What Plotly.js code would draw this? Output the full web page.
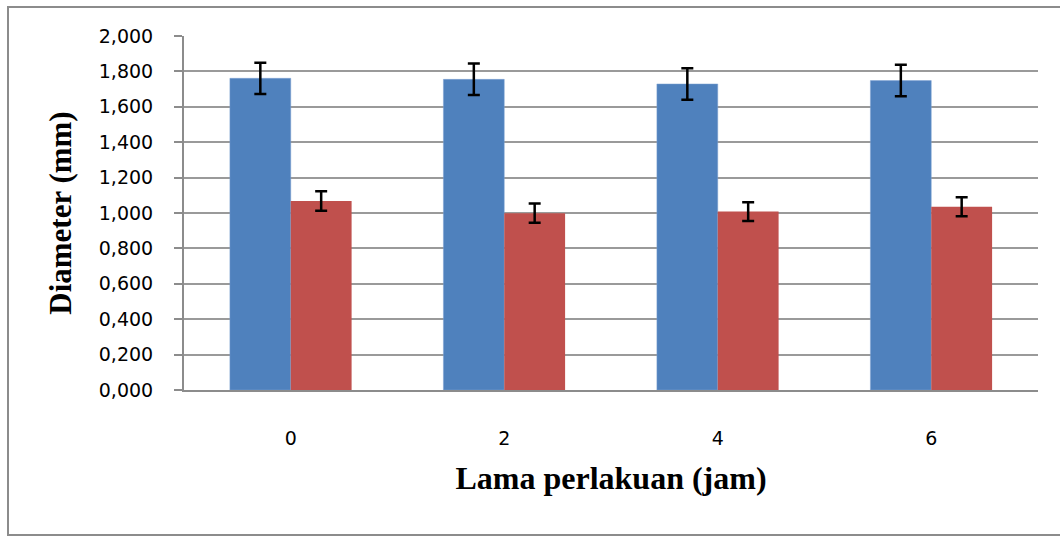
<!DOCTYPE html>
<html>
<head>
<meta charset="utf-8">
<script src="https://cdn.plot.ly/plotly-3.0.1.min.js"></script>
<style>
  html, body { margin: 0; padding: 0; background: #ffffff; }
  #wrap { position: relative; width: 1060px; height: 539px; overflow: hidden; }
  #chart { width: 1060px; height: 539px; }
  #frame { position: absolute; left: 7px; top: 6px; width: 1070px; height: 530px;
           border: 2px solid #8c8c8c; pointer-events: none; box-sizing: border-box; }
</style>
</head>
<body>
<div id="wrap">
  <div id="chart"></div>
  <div id="frame"></div>
</div>
<script>
const categories = ['0', '2', '4', '6'];
const seriesA = [1.761, 1.755, 1.729, 1.748];
const seriesAErr = [0.088, 0.089, 0.089, 0.089];
const seriesB = [1.068, 0.999, 1.008, 1.035];
const seriesBErr = [0.055, 0.054, 0.053, 0.054];
const yTicks = [0, 0.2, 0.4, 0.6, 0.8, 1.0, 1.2, 1.4, 1.6, 1.8, 2.0];

const errStyle = { type: 'data', visible: true, color: '#000000', thickness: 2.5, width: 6 };

const traces = [
  {
    type: 'bar', x: categories, y: seriesA, name: 'A',
    marker: { color: '#4F81BD', line: { color: '#7FA3D3', width: 0.5 } },
    error_y: Object.assign({ array: seriesAErr }, errStyle)
  },
  {
    type: 'bar', x: categories, y: seriesB, name: 'B',
    marker: { color: '#C0504D', line: { color: '#C0504D', width: 0 } },
    error_y: Object.assign({ array: seriesBErr }, errStyle)
  }
];

const layout = {
  width: 1060, height: 539,
  margin: { l: 184, r: 22, t: 36, b: 149 },
  paper_bgcolor: '#ffffff', plot_bgcolor: '#ffffff',
  separators: ',.',
  showlegend: false,
  barmode: 'group',
  bargap: 0.43, bargroupgap: 0,
  font: { family: 'DejaVu Sans, sans-serif', color: '#000000' },
  xaxis: {
    type: 'category',
    showgrid: false, zeroline: false,
    showline: true, linecolor: '#8c8c8c', linewidth: 2,
    ticks: '', ticklabelstandoff: 30,
    tickfont: { family: 'DejaVu Sans, sans-serif', size: 19, color: '#000000' },
    title: { text: 'Lama perlakuan (jam)', standoff: 19,
             font: { family: 'Liberation Serif, serif', size: 32, color: '#000000', weight: 'bold' } }
  },
  yaxis: {
    range: [0, 2.0], tickvals: yTicks, tickformat: '.3f',
    showgrid: true, gridcolor: '#9a9a9a', gridwidth: 2,
    zeroline: false,
    showline: true, linecolor: '#8c8c8c', linewidth: 2,
    ticks: 'outside', ticklen: 8, tickcolor: '#8c8c8c', tickwidth: 2,
    ticklabelstandoff: 17,
    tickfont: { family: 'DejaVu Sans, sans-serif', size: 19, color: '#000000' },
    title: { text: 'Diameter (mm)', standoff: 18,
             font: { family: 'Liberation Serif, serif', size: 31, color: '#000000', weight: 'bold' } }
  }
};

Plotly.newPlot('chart', traces, layout, { displayModeBar: false, staticPlot: true });
</script>
</body>
</html>
